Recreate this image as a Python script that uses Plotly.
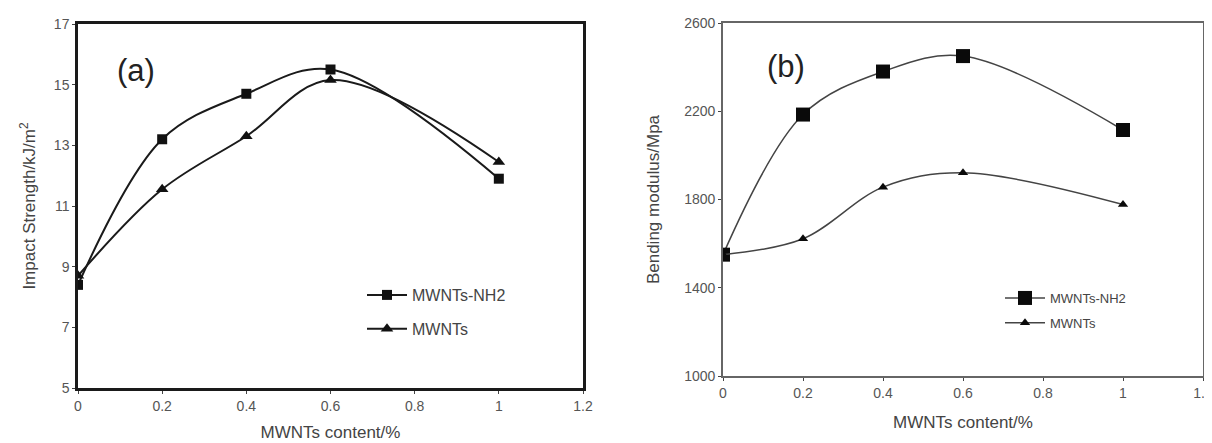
import plotly.graph_objects as go

# Data
x_content = [0, 0.2, 0.4, 0.6, 1.0]
impact_nh2 = [8.4, 13.2, 14.7, 15.5, 11.9]
impact_mwnt = [8.7, 11.55, 13.3, 15.15, 12.45]
bend_nh2 = [1550, 2185, 2380, 2450, 2115]
bend_mwnt = [1550, 1622, 1856, 1921, 1777]
series_names = ["MWNTs-NH2", "MWNTs"]
x_ticks = [0, 0.2, 0.4, 0.6, 0.8, 1.0, 1.2]
y_ticks_a = [5, 7, 9, 11, 13, 15, 17]
y_ticks_b = [1000, 1400, 1800, 2200, 2600]

W, H = 1212, 443
OFF = 8  # page body margin
def fx(p): return (p - OFF) / W
def fy(p): return 1 - (p - OFF) / H

FONT = "Liberation Sans, Arial, sans-serif"

fig = go.Figure()

# Panel (a)
fig.add_trace(go.Scatter(x=x_content, y=impact_nh2, name=series_names[0], mode="lines+markers",
                         line=dict(color="#1a1a1a", width=2, shape="spline", smoothing=1),
                         marker=dict(symbol="square", size=10, color="#111"),
                         xaxis="x", yaxis="y", legend="legend", legendgroup="a1"))
fig.add_trace(go.Scatter(x=x_content, y=impact_mwnt, name=series_names[1], mode="lines+markers",
                         line=dict(color="#1a1a1a", width=2, shape="spline", smoothing=1),
                         marker=dict(symbol="triangle-up", size=11, color="#111"),
                         xaxis="x", yaxis="y", legend="legend", legendgroup="a2"))
# Panel (b)
fig.add_trace(go.Scatter(x=x_content, y=bend_nh2, name=series_names[0], mode="lines+markers",
                         line=dict(color="#444", width=1.5, shape="spline", smoothing=1),
                         marker=dict(symbol="square", size=14, color="#0a0a0a"),
                         xaxis="x2", yaxis="y2", legend="legend2", legendgroup="b1"))
fig.add_trace(go.Scatter(x=x_content, y=bend_mwnt, name=series_names[1], mode="lines+markers",
                         line=dict(color="#444", width=1.5, shape="spline", smoothing=1),
                         marker=dict(symbol="triangle-up", size=9, color="#0a0a0a"),
                         xaxis="x2", yaxis="y2", legend="legend2", legendgroup="b2"))

axis_common = dict(showgrid=False, zeroline=False, mirror=True, ticks="outside", ticklen=3,
                   automargin=False,
                   tickfont=dict(family=FONT, size=14, color="#555"))
title_font = dict(family=FONT, size=17, color="#444")

fig.update_layout(
    width=W, height=H, margin=dict(l=0, r=0, t=0, b=0, autoexpand=False),
    paper_bgcolor="white", plot_bgcolor="white",
    showlegend=True,
    xaxis=dict(domain=[fx(78), fx(583)], range=[0, 1.2], tickvals=x_ticks, anchor="y",
               showline=True, linecolor="#1a1a1a", linewidth=2.5,
               title=dict(text="MWNTs content/%", font=title_font, standoff=14),
               **axis_common),
    yaxis=dict(domain=[fy(388), fy(24)], range=[5, 17], tickvals=y_ticks_a, anchor="x",
               showline=True, linecolor="#1a1a1a", linewidth=2.5,
               title=dict(text="Impact Strength/kJ/m<sup>2</sup>", font=title_font, standoff=14),
               **axis_common),
    xaxis2=dict(domain=[fx(723), fx(1203)], range=[0, 1.2], tickvals=x_ticks, anchor="y2",
                showline=True, linecolor="#666", linewidth=1.8,
                title=dict(text="MWNTs content/%", font=title_font, standoff=16),
                **axis_common),
    yaxis2=dict(domain=[fy(376), fy(23)], range=[1000, 2600], tickvals=y_ticks_b, anchor="x2",
                showline=True, linecolor="#666", linewidth=1.8,
                title=dict(text="Bending modulus/Mpa", font=title_font, standoff=20),
                **axis_common),
    legend=dict(x=fx(362), y=fy(278), xanchor="left", yanchor="top", bgcolor="rgba(0,0,0,0)",
                font=dict(family=FONT, size=16, color="#444"), tracegroupgap=10, itemwidth=40,
                traceorder="grouped"),
    legend2=dict(x=fx(1000), y=fy(283), xanchor="left", yanchor="top", bgcolor="rgba(0,0,0,0)",
                 font=dict(family=FONT, size=13, color="#444"), tracegroupgap=5, itemwidth=40,
                 traceorder="grouped"),
    annotations=[
        dict(text="(a)", x=fx(136), y=fy(70), xref="paper", yref="paper", showarrow=False,
             xanchor="center", yanchor="middle",
             font=dict(family=FONT, size=31, color="#222")),
        dict(text="(b)", x=fx(786), y=fy(66), xref="paper", yref="paper", showarrow=False,
             xanchor="center", yanchor="middle",
             font=dict(family=FONT, size=31, color="#222")),
    ],
)

fig.write_html("out.html")
